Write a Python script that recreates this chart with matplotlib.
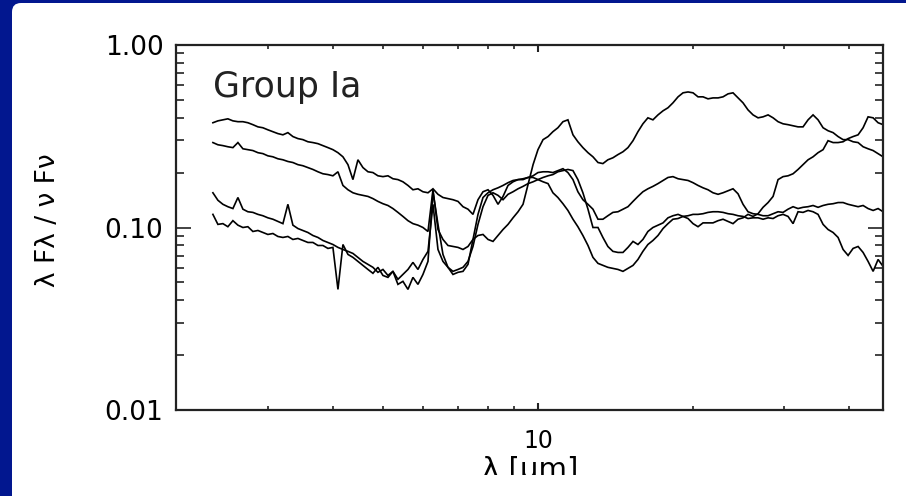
import matplotlib
matplotlib.use('Agg')
import matplotlib.pyplot as plt
from matplotlib.patches import FancyBboxPatch, Rectangle
from matplotlib.transforms import IdentityTransform
from matplotlib.ticker import FixedLocator, FixedFormatter, NullFormatter

# wavelength grid [micron], shared by all spectra
wave = [2.346, 2.399, 2.453, 2.508, 2.565, 2.623, 2.682, 2.742, 2.804, 2.868,
        2.932, 2.998, 3.066, 3.135, 3.206, 3.278, 3.352, 3.428, 3.505, 3.584,
        3.665, 3.748, 3.832, 3.919, 4.007, 4.098, 4.190, 4.285, 4.381, 4.480,
        4.581, 4.685, 4.790, 4.898, 5.009, 5.122, 5.237, 5.355, 5.476, 5.600,
        5.726, 5.855, 5.987, 6.123, 6.261, 6.402, 6.546, 6.694, 6.845, 7.000,
        7.158, 7.319, 7.484, 7.653, 7.826, 8.003, 8.183, 8.368, 8.557, 8.750,
        8.948, 9.150, 9.356, 9.568, 9.784, 10.00, 10.23, 10.46, 10.69, 10.93,
        11.18, 11.43, 11.69, 11.95, 12.22, 12.50, 12.78, 13.07, 13.36, 13.66,
        13.97, 14.29, 14.61, 14.94, 15.28, 15.62, 15.97, 16.33, 16.70, 17.08,
        17.47, 17.86, 18.26, 18.68, 19.10, 19.53, 19.97, 20.42, 20.88, 21.35,
        21.83, 22.33, 22.83, 23.35, 23.87, 24.41, 24.96, 25.52, 26.10, 26.69,
        27.29, 27.91, 28.54, 29.18, 29.84, 30.51, 31.20, 31.90, 32.62, 33.36,
        34.11, 34.88, 35.67, 36.47, 37.30, 38.14, 39.00, 39.88, 40.78, 41.70,
        42.64, 43.60, 44.59, 45.59, 46.62]

# lambda F_lambda / nu F_nu (V band) for the four Group Ia stars
flux_1 = [0.375, 0.384, 0.389, 0.394, 0.384, 0.380, 0.380, 0.375, 0.366, 0.356,
          0.352, 0.343, 0.335, 0.327, 0.322, 0.331, 0.315, 0.307, 0.303, 0.295,
          0.292, 0.288, 0.281, 0.274, 0.267, 0.257, 0.244, 0.221, 0.183, 0.235,
          0.213, 0.202, 0.200, 0.192, 0.190, 0.192, 0.185, 0.183, 0.178, 0.170,
          0.161, 0.163, 0.157, 0.155, 0.163, 0.152, 0.146, 0.144, 0.142, 0.139,
          0.130, 0.126, 0.118, 0.142, 0.157, 0.161, 0.150, 0.134, 0.148, 0.170,
          0.178, 0.183, 0.183, 0.188, 0.192, 0.200, 0.202, 0.202, 0.200, 0.205,
          0.210, 0.200, 0.183, 0.157, 0.142, 0.134, 0.126, 0.111, 0.111, 0.116,
          0.121, 0.122, 0.126, 0.130, 0.139, 0.148, 0.157, 0.163, 0.168, 0.174,
          0.181, 0.188, 0.190, 0.185, 0.183, 0.181, 0.176, 0.170, 0.165, 0.161,
          0.155, 0.152, 0.155, 0.159, 0.163, 0.153, 0.134, 0.122, 0.119, 0.118,
          0.116, 0.116, 0.119, 0.122, 0.121, 0.126, 0.130, 0.127, 0.129, 0.130,
          0.132, 0.129, 0.132, 0.134, 0.135, 0.137, 0.137, 0.134, 0.132, 0.130,
          0.132, 0.127, 0.124, 0.127, 0.122]

flux_2 = [0.292, 0.284, 0.281, 0.277, 0.274, 0.292, 0.270, 0.267, 0.264, 0.257,
          0.254, 0.247, 0.244, 0.238, 0.235, 0.230, 0.227, 0.221, 0.218, 0.213,
          0.208, 0.202, 0.197, 0.195, 0.192, 0.202, 0.170, 0.161, 0.155, 0.152,
          0.150, 0.148, 0.144, 0.139, 0.135, 0.132, 0.127, 0.121, 0.115, 0.109,
          0.105, 0.103, 0.100, 0.0951, 0.161, 0.0975, 0.0860, 0.0797, 0.0787, 0.0778,
          0.0758, 0.0787, 0.0860, 0.118, 0.146, 0.155, 0.161, 0.165, 0.170, 0.176,
          0.181, 0.183, 0.185, 0.188, 0.188, 0.183, 0.178, 0.174, 0.155, 0.146,
          0.135, 0.124, 0.111, 0.101, 0.0904, 0.0797, 0.0686, 0.0636, 0.0620, 0.0605,
          0.0597, 0.0589, 0.0575, 0.0597, 0.0620, 0.0668, 0.0740, 0.0807, 0.0849, 0.0904,
          0.0987, 0.105, 0.111, 0.112, 0.115, 0.116, 0.118, 0.118, 0.119, 0.121,
          0.122, 0.122, 0.121, 0.119, 0.118, 0.116, 0.115, 0.112, 0.113, 0.113,
          0.111, 0.113, 0.112, 0.116, 0.118, 0.115, 0.105, 0.122, 0.121, 0.124,
          0.122, 0.118, 0.104, 0.0975, 0.0939, 0.0882, 0.0758, 0.0703, 0.0768, 0.0787,
          0.0730, 0.0652, 0.0575, 0.0668, 0.0612]

flux_3 = [0.155, 0.141, 0.134, 0.130, 0.127, 0.146, 0.126, 0.122, 0.121, 0.118,
          0.116, 0.113, 0.111, 0.108, 0.105, 0.134, 0.103, 0.0987, 0.0963, 0.0939,
          0.0904, 0.0882, 0.0849, 0.0828, 0.0807, 0.0778, 0.0758, 0.0740, 0.0721, 0.0686,
          0.0652, 0.0628, 0.0605, 0.0568, 0.0589, 0.0546, 0.0575, 0.0520, 0.0553, 0.0589,
          0.0644, 0.0589, 0.0668, 0.0740, 0.134, 0.0758, 0.0652, 0.0605, 0.0575, 0.0589,
          0.0605, 0.0652, 0.0787, 0.104, 0.130, 0.150, 0.155, 0.150, 0.142, 0.152,
          0.157, 0.163, 0.168, 0.174, 0.178, 0.183, 0.188, 0.192, 0.195, 0.202,
          0.205, 0.208, 0.205, 0.183, 0.155, 0.126, 0.100, 0.100, 0.0882, 0.0787,
          0.0740, 0.0730, 0.0730, 0.0778, 0.0839, 0.0807, 0.0860, 0.0951, 0.100, 0.103,
          0.106, 0.113, 0.116, 0.118, 0.115, 0.112, 0.105, 0.101, 0.106, 0.106,
          0.106, 0.109, 0.111, 0.108, 0.105, 0.111, 0.113, 0.118, 0.115, 0.119,
          0.129, 0.137, 0.148, 0.183, 0.190, 0.192, 0.197, 0.208, 0.221, 0.235,
          0.244, 0.257, 0.267, 0.299, 0.292, 0.292, 0.295, 0.307, 0.315, 0.322,
          0.352, 0.404, 0.399, 0.375, 0.366]

flux_4 = [0.118, 0.104, 0.105, 0.101, 0.109, 0.103, 0.100, 0.101, 0.0951, 0.0963,
          0.0939, 0.0916, 0.0927, 0.0893, 0.0882, 0.0893, 0.0860, 0.0871, 0.0849, 0.0828,
          0.0828, 0.0797, 0.0797, 0.0768, 0.0778, 0.0458, 0.0807, 0.0712, 0.0686, 0.0652,
          0.0620, 0.0589, 0.0561, 0.0605, 0.0546, 0.0533, 0.0575, 0.0488, 0.0507, 0.0458,
          0.0533, 0.0488, 0.0553, 0.0652, 0.157, 0.104, 0.0712, 0.0605, 0.0553, 0.0568,
          0.0575, 0.0628, 0.0860, 0.0904, 0.0916, 0.0860, 0.0839, 0.0904, 0.0975, 0.104,
          0.113, 0.122, 0.134, 0.172, 0.221, 0.267, 0.303, 0.315, 0.335, 0.352,
          0.380, 0.389, 0.322, 0.295, 0.274, 0.257, 0.244, 0.227, 0.224, 0.235,
          0.241, 0.251, 0.260, 0.274, 0.299, 0.335, 0.370, 0.399, 0.389, 0.414,
          0.436, 0.453, 0.482, 0.520, 0.547, 0.553, 0.547, 0.520, 0.520, 0.507,
          0.513, 0.513, 0.520, 0.540, 0.547, 0.513, 0.482, 0.441, 0.414, 0.399,
          0.404, 0.414, 0.399, 0.380, 0.370, 0.366, 0.361, 0.356, 0.356, 0.389,
          0.414, 0.389, 0.352, 0.339, 0.331, 0.315, 0.303, 0.303, 0.295, 0.292,
          0.277, 0.270, 0.264, 0.254, 0.244]

spectra = [flux_1, flux_2, flux_3, flux_4]
for f in spectra:
    assert len(f) == len(wave)

plt.rcParams['font.family'] = 'DejaVu Sans'

fig = plt.figure(figsize=(9.06, 4.96), dpi=100)
fig.patch.set_facecolor('#02178f')

# white slide panel with rounded top-left corner
panel = FancyBboxPatch((12, -30), 940, 523, boxstyle='round,pad=0,rounding_size=9',
                       transform=IdentityTransform(), facecolor='white',
                       edgecolor='none', zorder=-5)
fig.patches.append(panel)

ax = fig.add_axes([176 / 906, 86 / 496, 707 / 906, 365 / 496])
ax.set_facecolor('white')
for f in spectra:
    ax.plot(wave, f, color='black', lw=1.2, solid_joinstyle='miter')

ax.set_xscale('log')
ax.set_yscale('log')
ax.set_xlim(1.99, 46.6)
ax.set_ylim(0.01, 1.0)

ax.xaxis.set_major_locator(FixedLocator([10]))
ax.xaxis.set_major_formatter(FixedFormatter(['10']))
ax.xaxis.set_minor_locator(FixedLocator([3, 4, 5, 6, 7, 8, 9, 20, 30, 40]))
ax.xaxis.set_minor_formatter(NullFormatter())

ax.yaxis.set_major_locator(FixedLocator([0.01, 0.1, 1.0]))
ax.yaxis.set_major_formatter(FixedFormatter(['0.01', '0.10', '1.00']))
yminor = [m * d for d in (0.01, 0.1) for m in range(2, 10)]
ax.yaxis.set_minor_locator(FixedLocator(yminor))
ax.yaxis.set_minor_formatter(NullFormatter())

ax.tick_params(which='both', direction='in', top=True, right=True, color='#222222')
ax.tick_params(axis='x', which='major', length=5, width=1.5, pad=14, labelsize=17)
ax.tick_params(axis='x', which='minor', length=3, width=1.2)
ax.tick_params(axis='y', which='major', length=11, width=1.2, pad=9, labelsize=19)
ax.tick_params(axis='y', which='minor', length=5.5, width=1.2)
for s in ax.spines.values():
    s.set_linewidth(1.6)
    s.set_color('#222222')

ax.text(37 / 707, 313 / 365, 'Group Ia', fontsize=25, ha='left', va='baseline',
        transform=ax.transAxes, color='#222222')

fig.text(48 / 906, 1 - 220 / 496, 'λ Fλ / ν Fν', rotation=90, fontsize=19,
         ha='center', va='center')
fig.text(530 / 906, 1 - 456 / 496, 'λ [μm]', fontsize=21, ha='center', va='top')

# bottom of the slide cuts through the axis title
fig.patches.append(Rectangle((12, -5), 900, 26, transform=IdentityTransform(),
                             facecolor='white', edgecolor='none', zorder=10))

fig.savefig('out.png', dpi=100, facecolor=fig.get_facecolor())
